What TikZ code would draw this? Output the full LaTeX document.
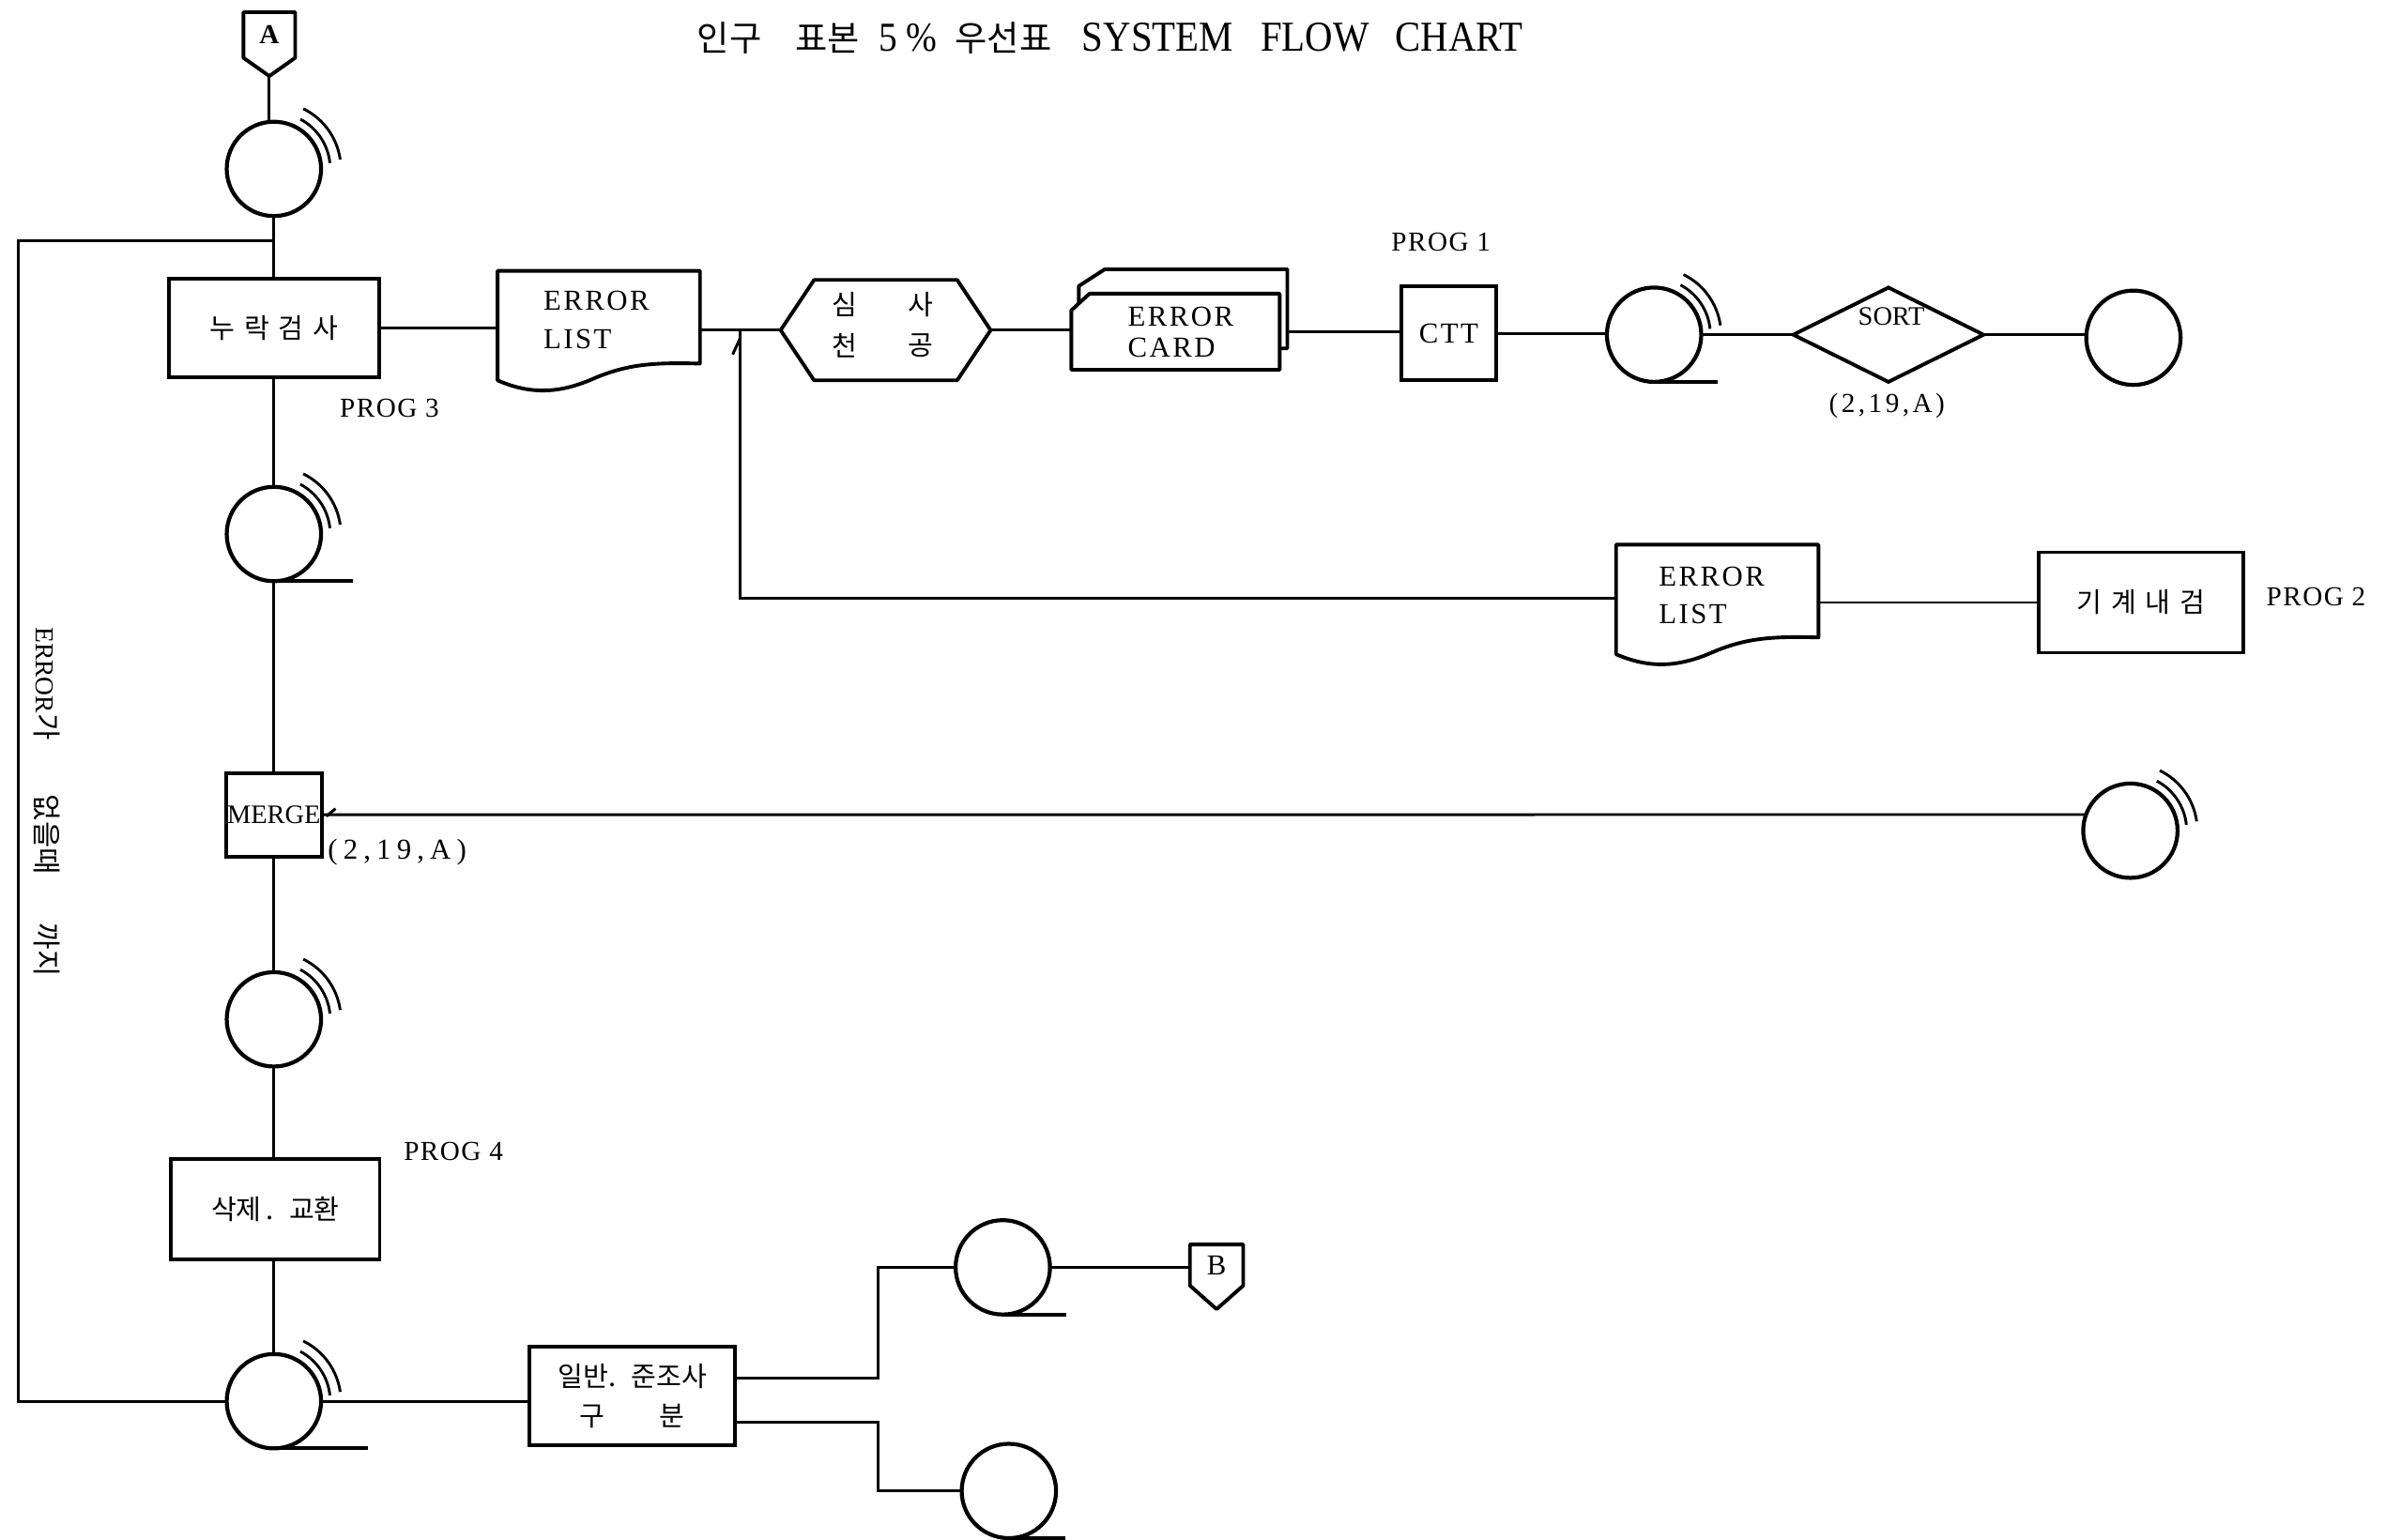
\documentclass[tikz,border=0pt]{standalone}
\usepackage{fontspec}
\setmainfont{Liberation Serif}
\newfontfamily\kr{Noto Sans CJK KR}
\newfontfamily\lsf[LetterSpace=5]{Liberation Serif}
\newfontfamily\lsg[LetterSpace=8]{Liberation Serif}
\newfontfamily\lsk[LetterSpace=12]{Liberation Serif}
\newfontfamily\lsh[LetterSpace=20]{Liberation Serif}
\usetikzlibrary{calc,shapes.geometric}
\tikzset{
  conn/.style={line width=1.8pt},
  outl/.style={line width=2.4pt, line join=round},
  ghost/.style={rectangle, inner sep=0pt, outer sep=0pt},
  boxnode/.style={draw, rectangle, line width=2.4pt, inner sep=0pt, outer sep=0pt},
  reel/.style={draw, circle, line width=2.6pt, minimum size=62pt, inner sep=0pt, outer sep=0pt},
  lbl/.style={font=\lsf\fontsize{18}{18}\selectfont, inner sep=0pt},
  doctxt/.style={font=\lsg\fontsize{19}{19}\selectfont, inner sep=0pt, anchor=base west},
  krtxt/.style={font=\kr\fontsize{18}{18}\selectfont, inner sep=0pt},
  arcline/.style={line width=1.8pt},
}
\newcommand\krsp{\hspace{6pt}}
\newcommand\reelarcs[1]{%
  \draw[arcline] ([shift={(62:37pt)}]#1.center) arc[start angle=62,end angle=6,radius=37pt];
  \draw[arcline] ([shift={(64:44pt)}]#1.center) arc[start angle=64,end angle=8,radius=44pt];}
\newcommand\reeltail[2]{\draw[outl] (#1.south) -- ++(#2,0);}
\newcommand\docoutline[1]{%
  \begin{scope}[shift={(#1.north west)}]
  \draw[outl] (0,0) -- (133,0) -- (133,61) .. controls (100,60) and (85,62) .. (65,70) .. controls (45,79) and (25,83) .. (0,72) -- cycle;
  \end{scope}}
\begin{document}
\begin{tikzpicture}[x=1pt,y=-1pt]
\fill[white] (0,0) rectangle (1568,1012.2);
\useasboundingbox (0,0) rectangle (1568,1012.2);

% title
\node[anchor=west, inner sep=0pt] (title) at (458,25) {{\kr\fontsize{23}{23}\selectfont 인구\hspace{22pt}표본}\hspace{13pt}{\fontsize{27}{27}\selectfont\scalebox{0.9}[1]{5\hspace{6pt}\%}}\hspace{12pt}{\kr\fontsize{23}{23}\selectfont 우선표}\hspace{20pt}{\fontsize{28}{28}\selectfont\scalebox{0.9}[1]{SYSTEM\hspace{20pt}FLOW\hspace{19pt}CHART}}};

% A connector
\node[ghost, minimum width=34pt, minimum height=30pt, font=\bfseries\fontsize{18}{18}\selectfont] (A) at (177,23) {A};
\coordinate (Atip) at ($(A.south)+(0,12)$);
\draw[outl] (A.north west) -- (A.north east) -- (A.south east) -- (Atip) -- (A.south west) -- cycle;

% main column
\node[reel] (t1) at (180,111) {}; \reelarcs{t1}
\node[boxnode, minimum width=138pt, minimum height=65pt, krtxt] (box1) at (180,215.5) {누\krsp 락\krsp 검\krsp 사};
\node[lbl] (p3) at (256,268) {PROG 3};
\node[reel] (t2) at (180,351) {}; \reelarcs{t2} \reeltail{t2}{52}
\node[boxnode, minimum width=63pt, minimum height=55pt, font=\fontsize{17.5}{17.5}\selectfont] (merge) at (180,535.5) {MERGE};
\node[font=\lsh\fontsize{19}{19}\selectfont, inner sep=0pt] (mkey) at (261,560) {(2,19,A)};
\node[reel] (t3) at (180,670) {}; \reelarcs{t3}
\node[boxnode, minimum width=137pt, minimum height=66pt, font=\kr\fontsize{18}{18}\selectfont] (box2) at (181,795) {삭제\hspace{3pt}.\hspace{10pt}교환};
\node[lbl] (p4) at (298,757) {PROG 4};
\node[reel] (t4) at (180,921) {}; \reelarcs{t4} \reeltail{t4}{62}

\draw[conn] (Atip) -- (Atip |- t1.north);
\coordinate (j1) at (180,158);
\draw[conn] (t1.south) -- (box1.north);
\draw[conn] (box1.south) -- (t2.north);
\draw[conn] (t2.south) -- (merge.north);
\draw[conn] (merge.south) -- (t3.north);
\draw[conn] (t3.south) -- (t3.south |- box2.north);
\draw[conn] (box2.south -| t4.north) -- (t4.north);

% loop
\coordinate (lb) at (12,921);
\coordinate (lt) at (12,158);
\draw[conn] (t4.west) -- (lb) -- (lt) -- (j1);
\node[rotate=-90, inner sep=0pt, font=\fontsize{17}{17}\selectfont] (vt) at (31,527) {ERROR{\kr\fontsize{19}{19}\selectfont 가\hspace{36pt}없을때\hspace{32pt}까지}};

% top row
\node[ghost, minimum width=133pt, minimum height=72pt] (doc1) at (393.5,214) {};
\docoutline{doc1}
\node[doctxt] (d1a) at (357,204) {ERROR};
\node[doctxt] (d1b) at (357,229) {LIST};
\draw[conn] (box1.east) -- (box1.east -| doc1.west);

\node[ghost, minimum width=138pt, minimum height=66pt] (hex) at (582,217) {};
\draw[outl] (hex.west) -- ($(hex.north west)+(22,0)$) -- ($(hex.north east)+(-22,0)$) -- (hex.east) -- ($(hex.south east)+(-22,0)$) -- ($(hex.south west)+(22,0)$) -- cycle;
\node[krtxt] (h1) at (555,200) {심};
\node[krtxt] (h2) at (605,200) {사};
\node[krtxt] (h3) at (555,227) {천};
\node[krtxt] (h4) at (605,227) {공};
\draw[conn] (hex.west -| doc1.east) -- (hex.west);
\coordinate (j2) at ($(hex.west -| doc1.east)!0.5!(hex.west)$);

\node[ghost, minimum width=137pt, minimum height=50pt] (card) at (772.5,218) {};
\begin{scope}[shift={(card.north west)}]
\draw[outl] (5,6) -- (5,-5) -- (22,-16) -- (142,-16) -- (142,36) -- (137,36);
\draw[outl] (0,11) -- (12,0) -- (137,0) -- (137,50) -- (0,50) -- cycle;
\end{scope}
\node[doctxt] (c1) at (741,214.5) {ERROR};
\node[doctxt] (c2) at (741,234.5) {CARD};
\draw[conn] (hex.east) -- (hex.east -| card.west);
\coordinate (cardR) at ($(card.east)+(5,0)$);

\node[boxnode, minimum width=62pt, minimum height=62pt, font=\lsg\fontsize{19}{19}\selectfont] (ctt) at (952,219) {CTT};
\node[lbl] (p1) at (947,159) {PROG 1};
\draw[conn] (cardR) -- (cardR -| ctt.west);

\node[reel] (tt2) at (1087,220) {}; \reelarcs{tt2} \reeltail{tt2}{42}
\draw[conn] (ctt.east) -- (ctt.east -| tt2.west);
\node[draw, diamond, line width=2.4pt, minimum width=125pt, minimum height=62pt, inner sep=0pt, outer sep=0pt] (sort) at (1241,220) {};
\node[font=\fontsize{17.5}{17.5}\selectfont, inner sep=0pt] (sortt) at (1243,208) {SORT};
\node[font=\lsk\fontsize{18}{18}\selectfont, inner sep=0pt] (skey) at (1240,267) {(2,19,A)};
\draw[conn] (tt2.east) -- (sort.west);
\node[reel] (tt3) at (1402,222) {};
\draw[conn] (sort.east) -- (sort.east -| tt3.west);

% error list 2
\node[ghost, minimum width=134pt, minimum height=70pt] (doc2) at (1129,393) {};
\docoutline{doc2}
\node[doctxt] (d2a) at (1090,385) {ERROR};
\node[doctxt] (d2b) at (1090,410) {LIST};
\node[boxnode, minimum width=134pt, minimum height=66pt, krtxt] (chk) at (1407,396) {기\krsp 계\krsp 내\krsp 검};
\node[lbl] (p2) at (1522,392) {PROG 2};
\draw[conn] (doc2.east |- chk.west) -- (chk.west);
\draw[conn] (j2) |- (doc2.west);
\draw[conn] ([shift={(-5,16)}]j2) -- ([shift={(0,5)}]j2);

% merge input
\node[reel] (tm) at (1400,546) {}; \reelarcs{tm}
\draw[conn] (merge.east) -- (tm.160);
\draw[conn] ([shift={(3,1)}]merge.east) -- ([shift={(9,-4)}]merge.east);

% bottom
\node[boxnode, minimum width=135pt, minimum height=65pt, font=\kr\fontsize{18}{26}\selectfont, align=center] (box3) at (415.5,917.5) {일반.\hspace{10pt}준조사\\구\hspace{36pt}분};
\draw[conn] (t4.east) -- (t4.east -| box3.west);
\node[reel] (t7) at (659,833) {}; \reeltail{t7}{42}
\node[reel] (t8) at (663,980) {}; \reeltail{t8}{37}
\draw[conn] ([yshift=11.5pt]box3.east) -- ++(94,0) |- (t7.west);
\draw[conn] ([yshift=-17.5pt]box3.east) -- ++(94,0) |- (t8.west);
\node[ghost, minimum width=35pt, minimum height=27pt, font=\fontsize{19}{19}\selectfont] (B) at (799.5,831.5) {B};
\coordinate (Btip) at ($(B.south)+(0,15.5)$);
\draw[outl] (B.north west) -- (B.north east) -- (B.south east) -- (Btip) -- (B.south west) -- cycle;
\draw[conn] (t7.east) -- (t7.east -| B.west);
\end{tikzpicture}
\end{document}
